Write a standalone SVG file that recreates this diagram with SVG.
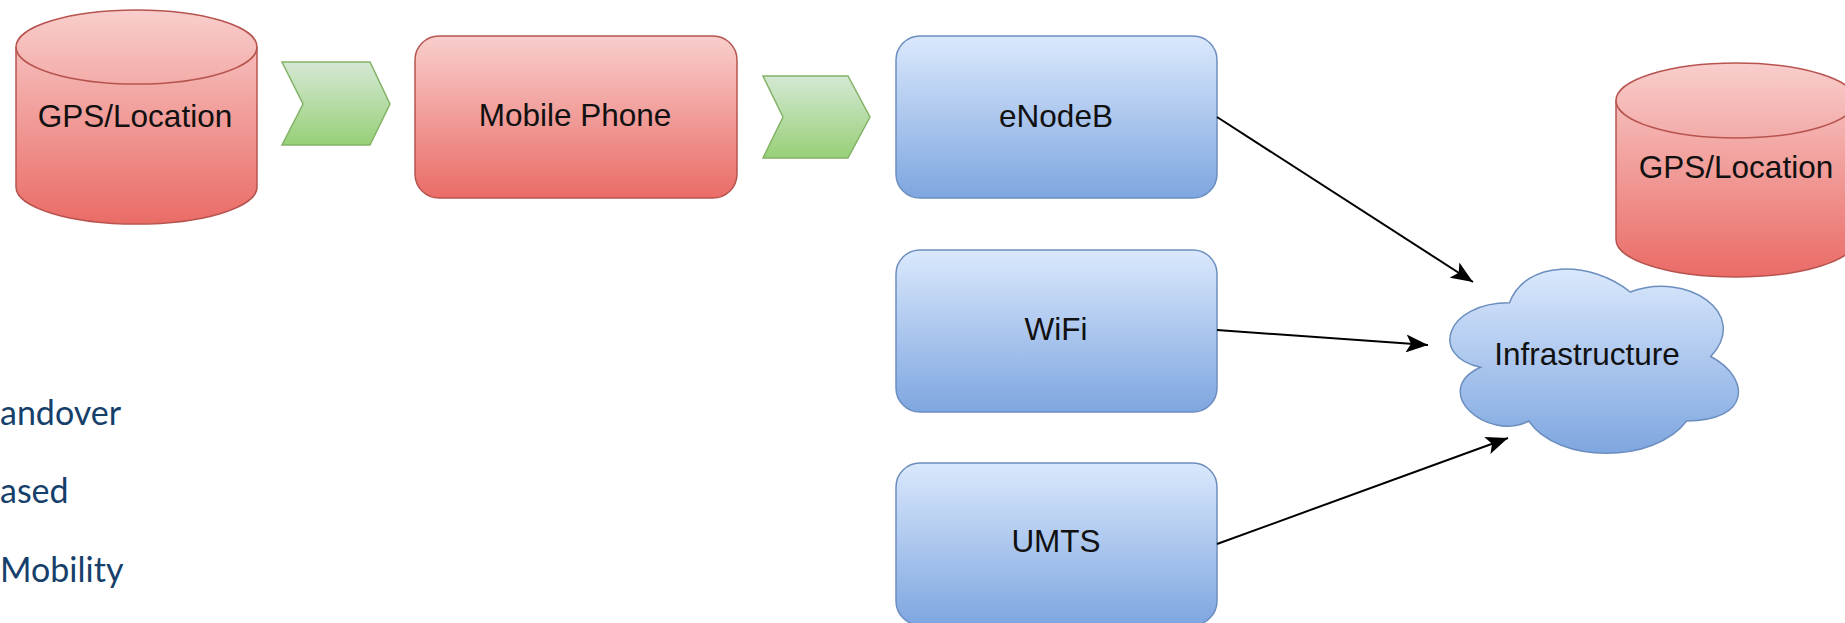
<svg xmlns="http://www.w3.org/2000/svg" width="1845" height="623" viewBox="0 0 1845 623">
<defs>
<linearGradient id="gRed" x1="0" y1="0" x2="0" y2="1"><stop offset="0" stop-color="#f8cecc"/><stop offset="1" stop-color="#ea6b66"/></linearGradient>
<linearGradient id="gBlue" x1="0" y1="0" x2="0" y2="1"><stop offset="0" stop-color="#dae8fc"/><stop offset="1" stop-color="#7ea6e0"/></linearGradient>
<linearGradient id="gGreen" x1="0" y1="0" x2="0" y2="1"><stop offset="0" stop-color="#d5e8d4"/><stop offset="1" stop-color="#97d077"/></linearGradient>
<marker id="arr" viewBox="0 0 22 18" refX="22" refY="9" markerWidth="22" markerHeight="18" markerUnits="userSpaceOnUse" orient="auto">
<path d="M0,0 L22,9 L0,18 L5,9 Z" fill="#000"/>
</marker>
<style>
.red{fill:url(#gRed);stroke:#b85450;stroke-width:1.5}
.blue{fill:url(#gBlue);stroke:#6c8ebf;stroke-width:1.5}
.green{fill:url(#gGreen);stroke:#82b366;stroke-width:1.5}
.lbl{font-family:"Liberation Sans",Arial,sans-serif;font-size:31.5px;fill:#111;text-anchor:middle}
.side{font-family:Lato,"Open Sans",sans-serif;font-size:34px;fill:#173f6b}
.conn{stroke:#000;stroke-width:2;fill:none;marker-end:url(#arr)}
</style>
</defs>
<rect width="1845" height="623" fill="#fff"/>

<g id="gps1">
<path class="red" d="M16,47 A120.5,37 0 0 1 257,47 L257,187 A120.5,37 0 0 1 16,187 Z"/>
<path d="M16,47 A120.5,37 0 0 0 257,47" fill="none" stroke="#b85450" stroke-width="1.5"/>
<text class="lbl" x="135" y="127">GPS/Location</text>
</g>

<g id="chev1"><path class="green" d="M282,62 L370,62 L390,104 L370,145 L282,145 L303,104 Z"/></g>

<g id="mobile">
<rect class="red" x="415" y="36" width="322" height="162" rx="24" ry="24"/>
<text class="lbl" x="575" y="126">Mobile Phone</text>
</g>

<g id="chev2"><path class="green" d="M763,76 L848,76 L870,117 L848,158 L763,158 L783,117 Z"/></g>

<g id="enodeb">
<rect class="blue" x="896" y="36" width="321" height="162" rx="24" ry="24"/>
<text class="lbl" x="1056" y="127">eNodeB</text>
</g>

<g id="wifi">
<rect class="blue" x="896" y="250" width="321" height="162" rx="24" ry="24"/>
<text class="lbl" x="1056" y="340">WiFi</text>
</g>

<g id="umts">
<rect class="blue" x="896" y="463" width="321" height="162" rx="24" ry="24"/>
<text class="lbl" x="1056" y="552">UMTS</text>
</g>

<g id="infra">
<path class="blue" d="M1509.5,302.75 C1445.1,302.75 1429,356.5 1480.5,367.25 C1429,390.9 1487,442.5 1528.8,421 C1557.8,464 1654.4,464 1686.6,421 C1751,421 1751,378 1710.75,356.5 C1751,313.5 1686.6,270.5 1630.25,292 C1590,259.75 1525.6,259.75 1509.5,302.75 Z"/>
<text class="lbl" x="1587" y="365">Infrastructure</text>
</g>

<g id="gps2">
<path class="red" d="M1616,100.5 A120,37.5 0 0 1 1856,100.5 L1856,239.5 A120,37.5 0 0 1 1616,239.5 Z"/>
<path d="M1616,100.5 A120,37.5 0 0 0 1856,100.5" fill="none" stroke="#b85450" stroke-width="1.5"/>
<text class="lbl" x="1736" y="178">GPS/Location</text>
</g>

<g id="connectors">
<line class="conn" x1="1217" y1="117" x2="1473" y2="282"/>
<line class="conn" x1="1217" y1="330" x2="1428" y2="345"/>
<line class="conn" x1="1217" y1="544" x2="1508" y2="438"/>
</g>

<g id="sidetext">
<text class="side" x="0" y="425">andover</text>
<text class="side" x="0" y="503">ased</text>
<text class="side" x="0" y="582">Mobility</text>
</g>
</svg>
